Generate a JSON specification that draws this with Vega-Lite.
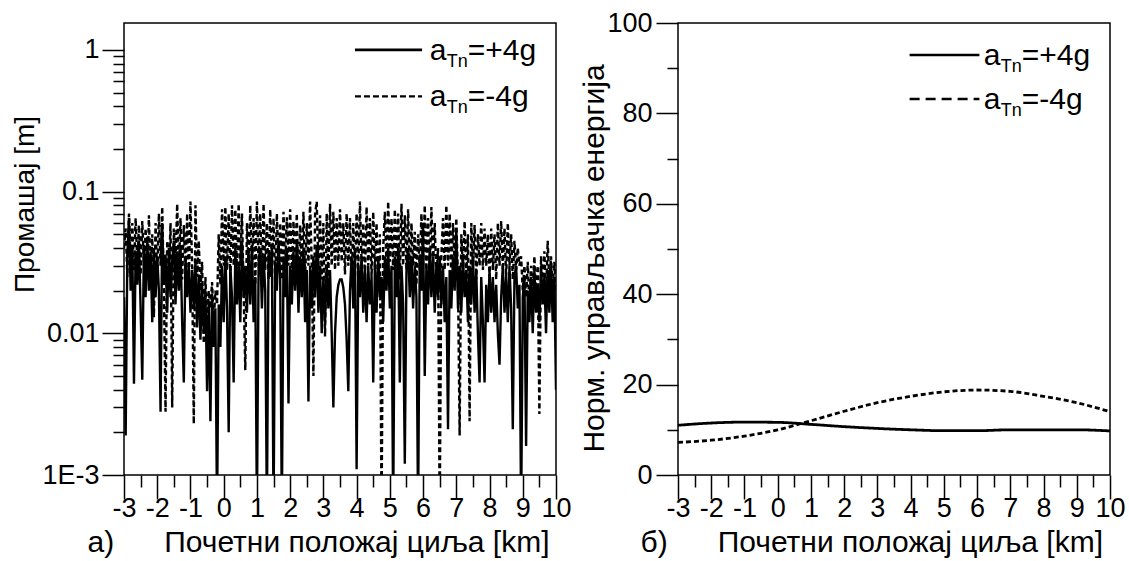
{
"$schema":"https://vega.github.io/schema/vega-lite/v6.json",
"padding":{"left":10,"top":8,"right":0,"bottom":0},
"spacing":122,
"bounds":"flush",
"config":{
 "view":{"stroke":"black","strokeWidth":1.5},
 "font":"Liberation Sans",
 "axis":{"domainColor":"black","tickColor":"black","labelColor":"black","titleColor":"black","grid":false,"labelFont":"Liberation Sans","titleFont":"Liberation Sans","labelFontSize":27,"titleFontSize":30,"titleFontWeight":"normal","tickWidth":1.5,"domainWidth":1.5,"labelOverlap":false,"labelFlush":false}
},
"datasets":{
"miss":[
{"x":-3.00,"p":0.018,"m":0.040},{"x":-2.95,"p":0.0019,"m":0.055},{"x":-2.90,"p":0.035,"m":0.025},{"x":-2.85,"p":0.065,"m":0.070},{"x":-2.80,"p":0.020,"m":0.030},
{"x":-2.75,"p":0.040,"m":0.060},{"x":-2.70,"p":0.0044,"m":0.028},{"x":-2.65,"p":0.038,"m":0.065},{"x":-2.60,"p":0.022,"m":0.032},{"x":-2.55,"p":0.045,"m":0.058},
{"x":-2.50,"p":0.015,"m":0.026},{"x":-2.45,"p":0.0047,"m":0.062},{"x":-2.40,"p":0.042,"m":0.030},{"x":-2.35,"p":0.018,"m":0.055},{"x":-2.30,"p":0.048,"m":0.024},
{"x":-2.25,"p":0.020,"m":0.068},{"x":-2.20,"p":0.038,"m":0.022},{"x":-2.15,"p":0.012,"m":0.050},{"x":-2.10,"p":0.040,"m":0.013},{"x":-2.05,"p":0.018,"m":0.060},
{"x":-2.00,"p":0.035,"m":0.025},{"x":-1.95,"p":0.020,"m":0.070},{"x":-1.90,"p":0.0028,"m":0.030},{"x":-1.85,"p":0.060,"m":0.078},{"x":-1.80,"p":0.022,"m":0.020},
{"x":-1.75,"p":0.036,"m":0.0028},{"x":-1.70,"p":0.014,"m":0.045},{"x":-1.65,"p":0.040,"m":0.025},{"x":-1.60,"p":0.018,"m":0.060},{"x":-1.55,"p":0.032,"m":0.0030},
{"x":-1.50,"p":0.045,"m":0.055},{"x":-1.45,"p":0.016,"m":0.030},{"x":-1.40,"p":0.038,"m":0.082},{"x":-1.35,"p":0.020,"m":0.028},{"x":-1.30,"p":0.042,"m":0.065},
{"x":-1.25,"p":0.012,"m":0.024},{"x":-1.20,"p":0.0045,"m":0.058},{"x":-1.15,"p":0.035,"m":0.026},{"x":-1.10,"p":0.018,"m":0.070},{"x":-1.05,"p":0.030,"m":0.022},
{"x":-1.00,"p":0.014,"m":0.085},{"x":-0.95,"p":0.028,"m":0.030},{"x":-0.90,"p":0.015,"m":0.0023},{"x":-0.85,"p":0.032,"m":0.080},{"x":-0.80,"p":0.011,"m":0.025},
{"x":-0.75,"p":0.026,"m":0.045},{"x":-0.70,"p":0.009,"m":0.020},{"x":-0.65,"p":0.022,"m":0.032},{"x":-0.60,"p":0.010,"m":0.0085},{"x":-0.55,"p":0.020,"m":0.025},
{"x":-0.50,"p":0.0039,"m":0.012},{"x":-0.45,"p":0.017,"m":0.020},{"x":-0.40,"p":0.0024,"m":0.015},{"x":-0.35,"p":0.019,"m":0.023},{"x":-0.30,"p":0.008,"m":0.012},
{"x":-0.25,"p":0.015,"m":0.020},{"x":-0.20,"p":0.0005,"m":0.016},{"x":-0.15,"p":0.016,"m":0.050},{"x":-0.10,"p":0.008,"m":0.022},{"x":-0.05,"p":0.030,"m":0.075},
{"x":0.00,"p":0.012,"m":0.030},{"x":0.05,"p":0.035,"m":0.078},{"x":0.10,"p":0.015,"m":0.028},{"x":0.15,"p":0.0020,"m":0.070},{"x":0.20,"p":0.030,"m":0.024},
{"x":0.25,"p":0.018,"m":0.080},{"x":0.30,"p":0.0045,"m":0.030},{"x":0.35,"p":0.040,"m":0.075},{"x":0.40,"p":0.016,"m":0.026},{"x":0.45,"p":0.032,"m":0.082},
{"x":0.50,"p":0.012,"m":0.030},{"x":0.55,"p":0.045,"m":0.070},{"x":0.60,"p":0.018,"m":0.020},{"x":0.65,"p":0.030,"m":0.0055},{"x":0.70,"p":0.014,"m":0.060},
{"x":0.75,"p":0.038,"m":0.028},{"x":0.80,"p":0.016,"m":0.080},{"x":0.85,"p":0.042,"m":0.030},{"x":0.90,"p":0.012,"m":0.065},{"x":0.95,"p":0.025,"m":0.022},
{"x":1.00,"p":0.0005,"m":0.085},{"x":1.05,"p":0.030,"m":0.030},{"x":1.10,"p":0.040,"m":0.070},{"x":1.15,"p":0.015,"m":0.025},{"x":1.20,"p":0.035,"m":0.082},
{"x":1.25,"p":0.020,"m":0.028},{"x":1.30,"p":0.0005,"m":0.060},{"x":1.35,"p":0.038,"m":0.024},{"x":1.40,"p":0.025,"m":0.075},{"x":1.45,"p":0.040,"m":0.030},
{"x":1.50,"p":0.0005,"m":0.065},{"x":1.55,"p":0.032,"m":0.022},{"x":1.60,"p":0.020,"m":0.070},{"x":1.65,"p":0.045,"m":0.030},{"x":1.70,"p":0.025,"m":0.060},
{"x":1.75,"p":0.0005,"m":0.024},{"x":1.80,"p":0.035,"m":0.072},{"x":1.85,"p":0.018,"m":0.028},{"x":1.90,"p":0.040,"m":0.066},{"x":1.95,"p":0.0032,"m":0.030},
{"x":2.00,"p":0.030,"m":0.075},{"x":2.05,"p":0.016,"m":0.025},{"x":2.10,"p":0.038,"m":0.062},{"x":2.15,"p":0.020,"m":0.030},{"x":2.20,"p":0.045,"m":0.070},
{"x":2.25,"p":0.014,"m":0.020},{"x":2.30,"p":0.035,"m":0.058},{"x":2.35,"p":0.018,"m":0.028},{"x":2.40,"p":0.040,"m":0.072},{"x":2.45,"p":0.012,"m":0.024},
{"x":2.50,"p":0.028,"m":0.060},{"x":2.55,"p":0.0033,"m":0.030},{"x":2.60,"p":0.030,"m":0.085},{"x":2.65,"p":0.015,"m":0.030},{"x":2.70,"p":0.035,"m":0.0050},
{"x":2.75,"p":0.018,"m":0.070},{"x":2.80,"p":0.042,"m":0.085},{"x":2.85,"p":0.014,"m":0.028},{"x":2.90,"p":0.030,"m":0.068},{"x":2.95,"p":0.010,"m":0.024},
{"x":3.00,"p":0.025,"m":0.060},{"x":3.05,"p":0.012,"m":0.0095},{"x":3.10,"p":0.030,"m":0.070},{"x":3.15,"p":0.015,"m":0.025},{"x":3.20,"p":0.028,"m":0.082},
{"x":3.25,"p":0.010,"m":0.030},{"x":3.30,"p":0.0030,"m":0.072},{"x":3.35,"p":0.010,"m":0.028},{"x":3.40,"p":0.018,"m":0.065},{"x":3.45,"p":0.022,"m":0.030},
{"x":3.50,"p":0.024,"m":0.075},{"x":3.55,"p":0.024,"m":0.032},{"x":3.60,"p":0.021,"m":0.060},{"x":3.65,"p":0.016,"m":0.026},{"x":3.70,"p":0.009,"m":0.070},
{"x":3.75,"p":0.0039,"m":0.030},{"x":3.80,"p":0.020,"m":0.065},{"x":3.85,"p":0.035,"m":0.022},{"x":3.90,"p":0.015,"m":0.060},{"x":3.95,"p":0.040,"m":0.025},
{"x":4.00,"p":0.0011,"m":0.070},{"x":4.05,"p":0.030,"m":0.028},{"x":4.10,"p":0.018,"m":0.085},{"x":4.15,"p":0.035,"m":0.030},{"x":4.20,"p":0.014,"m":0.060},
{"x":4.25,"p":0.028,"m":0.024},{"x":4.30,"p":0.012,"m":0.078},{"x":4.35,"p":0.030,"m":0.030},{"x":4.40,"p":0.016,"m":0.065},{"x":4.45,"p":0.025,"m":0.025},
{"x":4.50,"p":0.0045,"m":0.072},{"x":4.55,"p":0.030,"m":0.028},{"x":4.60,"p":0.014,"m":0.060},{"x":4.65,"p":0.035,"m":0.020},{"x":4.70,"p":0.018,"m":0.050},
{"x":4.75,"p":0.025,"m":0.0005},{"x":4.80,"p":0.012,"m":0.040},{"x":4.85,"p":0.035,"m":0.072},{"x":4.90,"p":0.020,"m":0.030},{"x":4.95,"p":0.040,"m":0.085},
{"x":5.00,"p":0.015,"m":0.032},{"x":5.05,"p":0.030,"m":0.065},{"x":5.10,"p":0.0005,"m":0.028},{"x":5.15,"p":0.035,"m":0.075},{"x":5.20,"p":0.018,"m":0.030},
{"x":5.25,"p":0.040,"m":0.070},{"x":5.30,"p":0.0045,"m":0.024},{"x":5.35,"p":0.030,"m":0.082},{"x":5.40,"p":0.016,"m":0.030},{"x":5.45,"p":0.0012,"m":0.068},
{"x":5.50,"p":0.028,"m":0.028},{"x":5.55,"p":0.040,"m":0.075},{"x":5.60,"p":0.018,"m":0.025},{"x":5.65,"p":0.035,"m":0.060},{"x":5.70,"p":0.015,"m":0.030},
{"x":5.75,"p":0.030,"m":0.052},{"x":5.80,"p":0.018,"m":0.022},{"x":5.85,"p":0.0005,"m":0.050},{"x":5.90,"p":0.035,"m":0.028},{"x":5.95,"p":0.020,"m":0.070},
{"x":6.00,"p":0.060,"m":0.030},{"x":6.05,"p":0.0050,"m":0.080},{"x":6.10,"p":0.030,"m":0.028},{"x":6.15,"p":0.016,"m":0.065},{"x":6.20,"p":0.040,"m":0.025},
{"x":6.25,"p":0.018,"m":0.078},{"x":6.30,"p":0.035,"m":0.030},{"x":6.35,"p":0.014,"m":0.060},{"x":6.40,"p":0.030,"m":0.024},{"x":6.45,"p":0.018,"m":0.040},
{"x":6.50,"p":0.035,"m":0.0005},{"x":6.55,"p":0.016,"m":0.035},{"x":6.60,"p":0.030,"m":0.065},{"x":6.65,"p":0.012,"m":0.028},{"x":6.70,"p":0.025,"m":0.080},
{"x":6.75,"p":0.0021,"m":0.030},{"x":6.80,"p":0.028,"m":0.070},{"x":6.85,"p":0.015,"m":0.025},{"x":6.90,"p":0.035,"m":0.060},{"x":6.95,"p":0.020,"m":0.030},
{"x":7.00,"p":0.055,"m":0.065},{"x":7.05,"p":0.015,"m":0.024},{"x":7.10,"p":0.030,"m":0.0019},{"x":7.15,"p":0.014,"m":0.050},{"x":7.20,"p":0.035,"m":0.028},
{"x":7.25,"p":0.018,"m":0.062},{"x":7.30,"p":0.028,"m":0.025},{"x":7.35,"p":0.012,"m":0.050},{"x":7.40,"p":0.030,"m":0.0024},{"x":7.45,"p":0.016,"m":0.060},
{"x":7.50,"p":0.035,"m":0.030},{"x":7.55,"p":0.014,"m":0.058},{"x":7.60,"p":0.028,"m":0.024},{"x":7.65,"p":0.010,"m":0.050},{"x":7.70,"p":0.0045,"m":0.030},
{"x":7.75,"p":0.025,"m":0.060},{"x":7.80,"p":0.012,"m":0.028},{"x":7.85,"p":0.0045,"m":0.055},{"x":7.90,"p":0.022,"m":0.030},{"x":7.95,"p":0.012,"m":0.050},
{"x":8.00,"p":0.028,"m":0.025},{"x":8.05,"p":0.014,"m":0.055},{"x":8.10,"p":0.025,"m":0.028},{"x":8.15,"p":0.012,"m":0.050},{"x":8.20,"p":0.022,"m":0.024},
{"x":8.25,"p":0.010,"m":0.060},{"x":8.30,"p":0.0060,"m":0.030},{"x":8.35,"p":0.018,"m":0.062},{"x":8.40,"p":0.030,"m":0.028},{"x":8.45,"p":0.014,"m":0.055},
{"x":8.50,"p":0.025,"m":0.025},{"x":8.55,"p":0.012,"m":0.060},{"x":8.60,"p":0.030,"m":0.030},{"x":8.65,"p":0.015,"m":0.050},{"x":8.70,"p":0.0021,"m":0.024},
{"x":8.75,"p":0.025,"m":0.045},{"x":8.80,"p":0.030,"m":0.028},{"x":8.85,"p":0.015,"m":0.040},{"x":8.90,"p":0.022,"m":0.030},{"x":8.95,"p":0.0005,"m":0.035},
{"x":9.00,"p":0.018,"m":0.020},{"x":9.05,"p":0.025,"m":0.030},{"x":9.10,"p":0.0016,"m":0.018},{"x":9.15,"p":0.020,"m":0.032},{"x":9.20,"p":0.012,"m":0.015},
{"x":9.25,"p":0.025,"m":0.030},{"x":9.30,"p":0.010,"m":0.020},{"x":9.35,"p":0.028,"m":0.035},{"x":9.40,"p":0.014,"m":0.018},{"x":9.45,"p":0.022,"m":0.030},
{"x":9.50,"p":0.012,"m":0.0027},{"x":9.55,"p":0.030,"m":0.035},{"x":9.60,"p":0.016,"m":0.020},{"x":9.65,"p":0.025,"m":0.038},{"x":9.70,"p":0.010,"m":0.018},
{"x":9.75,"p":0.028,"m":0.045},{"x":9.80,"p":0.014,"m":0.022},{"x":9.85,"p":0.030,"m":0.035},{"x":9.90,"p":0.012,"m":0.020},{"x":9.95,"p":0.025,"m":0.032},
{"x":10.00,"p":0.004,"m":0.020}
],
"energy":[
{"x":-3,"p":11.0,"m":7.2},{"x":-2,"p":11.5,"m":7.7},{"x":-1,"p":11.7,"m":8.6},{"x":0,"p":11.65,"m":10.0},{"x":1,"p":11.2,"m":12.0},
{"x":2,"p":10.7,"m":14.1},{"x":3,"p":10.3,"m":16.0},{"x":4,"p":10.0,"m":17.4},{"x":5,"p":9.8,"m":18.4},{"x":6,"p":9.8,"m":18.8},
{"x":7,"p":10.0,"m":18.5},{"x":8,"p":10.0,"m":17.4},{"x":9,"p":10.0,"m":16.0},{"x":10,"p":9.75,"m":14.0}
]
},
"hconcat":[
{
 "width":432,"height":452,
 "resolve":{"axis":{"x":"independent","y":"independent"}},
 "layer":[
  {
   "data":{"name":"miss"},
   "transform":[{"fold":["p","m"],"as":["s","v"]}],
   "mark":{"type":"line","clip":true,"color":"black","strokeWidth":2.4},
   "encoding":{
    "x":{"field":"x","type":"quantitative","scale":{"domain":[-3,10],"nice":false,"zero":false},
     "axis":{"orient":"bottom","values":[-3,-2,-1,0,1,2,3,4,5,6,7,8,9,10],"tickSize":24,"labelPadding":-4,"domain":false,"labelExpr":"'' + datum.value",
      "title":"а)\u00a0\u00a0\u00a0\u00a0\u00a0\u00a0Почетни положај циља [km]","titleAnchor":"start","titleX":-37,"titleY":76,"titleBaseline":"alphabetic"}},
    "y":{"field":"v","type":"quantitative","scale":{"type":"log","domain":[0.001,1.55],"nice":false},
     "axis":{"orient":"left","values":[0.001,0.01,0.1,1],"tickSize":22,"labelPadding":3,"domain":false,
      "labelExpr":"datum.value < 0.005 ? '1E-3' : datum.value < 0.05 ? '0.01' : datum.value < 0.5 ? '0.1' : '1'",
      "title":"Промашај [m]","titleFontSize":28,"titleAngle":-90,"titleAlign":"center","titleBaseline":"alphabetic","titleX":-91,"titleY":181}},
    "strokeDash":{"field":"s","type":"nominal","scale":{"domain":["p","m"],"range":[[1,0],[5,3]]},"legend":null}
   }
  },
  {
   "data":{"name":"miss"},
   "transform":[{"fold":["p","m"],"as":["s","v"]}],
   "mark":{"type":"line","clip":true,"strokeOpacity":0},
   "encoding":{
    "x":{"field":"x","type":"quantitative","axis":{"orient":"bottom","values":[-2.5,-1.5,-0.5,0.5,1.5,2.5,3.5,4.5,5.5,6.5,7.5,8.5,9.5],"tickSize":12,"labels":false,"domain":false,"title":null}},
    "y":{"field":"v","type":"quantitative","axis":{"orient":"left","values":[0.002,0.003,0.004,0.005,0.006,0.007,0.008,0.009,0.02,0.03,0.04,0.05,0.06,0.07,0.08,0.09,0.2,0.3,0.4,0.5,0.6,0.7,0.8,0.9],"tickSize":11,"labels":false,"domain":false,"title":null}},
    "detail":{"field":"s"}
   }
  },
  {
   "data":{"values":[{}]},
   "mark":{"type":"rule","color":"black","strokeWidth":2.8},
   "encoding":{"x":{"datum":3.95,"type":"quantitative","axis":null},"x2":{"datum":5.97},"y":{"datum":1.0,"type":"quantitative","axis":null}}
  },
  {
   "data":{"values":[{}]},
   "mark":{"type":"rule","color":"black","strokeWidth":2.2,"strokeDash":[6,3]},
   "encoding":{"x":{"datum":3.95,"type":"quantitative","axis":null},"x2":{"datum":5.97},"y":{"datum":0.47,"type":"quantitative","axis":null}}
  },
  {
   "data":{"values":[{"t":"a","yy":1.0},{"t":"a","yy":0.47}]},
   "mark":{"type":"text","align":"left","baseline":"alphabetic","fontSize":30,"dy":10,"color":"black","font":"Liberation Sans"},
   "encoding":{"x":{"datum":6.2,"type":"quantitative","axis":null},"y":{"field":"yy","type":"quantitative","axis":null},"text":{"field":"t"}}
  },
  {
   "data":{"values":[{"t":"Tn","yy":1.0},{"t":"Tn","yy":0.47}]},
   "mark":{"type":"text","align":"left","baseline":"alphabetic","fontSize":18,"dx":17,"dy":17,"color":"black","font":"Liberation Sans"},
   "encoding":{"x":{"datum":6.2,"type":"quantitative","axis":null},"y":{"field":"yy","type":"quantitative","axis":null},"text":{"field":"t"}}
  },
  {
   "data":{"values":[{"t":"=+4g","yy":1.0},{"t":"=-4g","yy":0.47}]},
   "mark":{"type":"text","align":"left","baseline":"alphabetic","fontSize":30,"dx":38,"dy":10,"color":"black","font":"Liberation Sans"},
   "encoding":{"x":{"datum":6.2,"type":"quantitative","axis":null},"y":{"field":"yy","type":"quantitative","axis":null},"text":{"field":"t"}}
  }
 ]
},
{
 "width":432,"height":452,
 "resolve":{"axis":{"x":"independent","y":"independent"}},
 "layer":[
  {
   "data":{"name":"energy"},
   "transform":[{"fold":["p","m"],"as":["s","v"]}],
   "mark":{"type":"line","color":"black","strokeWidth":2.8,"interpolate":"monotone"},
   "encoding":{
    "x":{"field":"x","type":"quantitative","scale":{"domain":[-3,10],"nice":false,"zero":false},
     "axis":{"orient":"bottom","values":[-3,-2,-1,0,1,2,3,4,5,6,7,8,9,10],"tickSize":24,"labelPadding":-4,"domain":false,"labelExpr":"'' + datum.value",
      "title":"б)\u00a0\u00a0\u00a0\u00a0\u00a0\u00a0Почетни положај циља [km]","titleAnchor":"start","titleX":-38,"titleY":76,"titleBaseline":"alphabetic"}},
    "y":{"field":"v","type":"quantitative","scale":{"domain":[0,100],"nice":false},
     "axis":{"orient":"left","values":[0,20,40,60,80,100],"tickSize":22,"labelPadding":4,"domain":false,
      "title":"Норм. управљачка енергија","titleAngle":-90,"titleAlign":"center","titleBaseline":"alphabetic","titleX":-75,"titleY":235}},
    "strokeDash":{"field":"s","type":"nominal","scale":{"domain":["p","m"],"range":[[1,0],[10,6]]},"legend":null}
   }
  },
  {
   "data":{"name":"energy"},
   "transform":[{"fold":["p","m"],"as":["s","v"]}],
   "mark":{"type":"line","strokeOpacity":0},
   "encoding":{
    "x":{"field":"x","type":"quantitative","axis":{"orient":"bottom","values":[-2.5,-1.5,-0.5,0.5,1.5,2.5,3.5,4.5,5.5,6.5,7.5,8.5,9.5],"tickSize":12,"labels":false,"domain":false,"title":null}},
    "y":{"field":"v","type":"quantitative","axis":{"orient":"left","values":[10,30,50,70,90],"tickSize":11,"labels":false,"domain":false,"title":null}},
    "detail":{"field":"s"}
   }
  },
  {
   "data":{"values":[{}]},
   "mark":{"type":"rule","color":"black","strokeWidth":2.5},
   "encoding":{"x":{"datum":3.97,"type":"quantitative","axis":null},"x2":{"datum":6.07},"y":{"datum":92.9,"type":"quantitative","axis":null}}
  },
  {
   "data":{"values":[{}]},
   "mark":{"type":"rule","color":"black","strokeWidth":2.5,"strokeDash":[10,6]},
   "encoding":{"x":{"datum":3.97,"type":"quantitative","axis":null},"x2":{"datum":6.07},"y":{"datum":83.2,"type":"quantitative","axis":null}}
  },
  {
   "data":{"values":[{"t":"a","yy":92.9},{"t":"a","yy":83.2}]},
   "mark":{"type":"text","align":"left","baseline":"alphabetic","fontSize":30,"dy":10,"color":"black","font":"Liberation Sans"},
   "encoding":{"x":{"datum":6.2,"type":"quantitative","axis":null},"y":{"field":"yy","type":"quantitative","axis":null},"text":{"field":"t"}}
  },
  {
   "data":{"values":[{"t":"Tn","yy":92.9},{"t":"Tn","yy":83.2}]},
   "mark":{"type":"text","align":"left","baseline":"alphabetic","fontSize":18,"dx":17,"dy":17,"color":"black","font":"Liberation Sans"},
   "encoding":{"x":{"datum":6.2,"type":"quantitative","axis":null},"y":{"field":"yy","type":"quantitative","axis":null},"text":{"field":"t"}}
  },
  {
   "data":{"values":[{"t":"=+4g","yy":92.9},{"t":"=-4g","yy":83.2}]},
   "mark":{"type":"text","align":"left","baseline":"alphabetic","fontSize":30,"dx":38,"dy":10,"color":"black","font":"Liberation Sans"},
   "encoding":{"x":{"datum":6.2,"type":"quantitative","axis":null},"y":{"field":"yy","type":"quantitative","axis":null},"text":{"field":"t"}}
  }
 ]
}
]
}
